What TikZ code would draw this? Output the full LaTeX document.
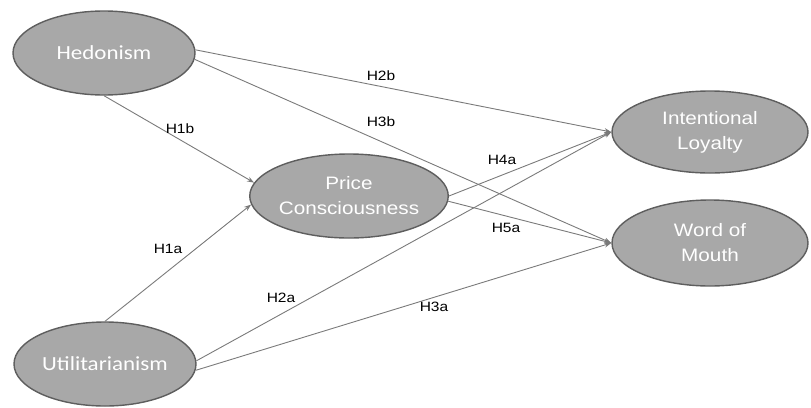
\documentclass[tikz,border=0pt]{standalone}
\usepackage{fontspec}
\setmainfont{Liberation Sans}
\newfontfamily\calfont{Carlito}
\usetikzlibrary{arrows.meta}
\newcommand{\sx}[1]{\scalebox{1.15}[1]{#1}}
\definecolor{ellfill}{HTML}{A8A8A8}
\definecolor{ellline}{HTML}{5E5E5E}
\definecolor{arrline}{HTML}{7A7A7A}
\tikzset{
  construct/.style={ellipse, draw=ellline, line width=1.4pt, fill=ellfill,
    text=white, inner sep=0pt, minimum width=182pt, minimum height=84pt, align=center,
    font=\fontsize{18}{25}\selectfont},
  calconstruct/.style={construct, font=\calfont\fontsize{20}{24}\selectfont},
  path/.style={draw=arrline, line width=0.9pt, -{Stealth[length=7pt,width=5pt,fill=ellline]}},
  hyp/.style={font=\fontsize{13.5}{15}\selectfont, text=black, inner sep=1pt}
}
\usetikzlibrary{shapes.geometric}
\begin{document}
\begin{tikzpicture}[x=1pt,y=-1pt]
\useasboundingbox (0,0) rectangle (811,407);
\node[calconstruct] (hed) at (104,53) {\sx{Hedonism}};
\node[calconstruct] (util) at (105,364) {\sx{Utilitarianism}};
\node[construct] (price) at (349,196) {\sx{Price}\\\sx{Consciousness}};
\node[construct, minimum width=196pt, minimum height=82pt] (il) at (710,132) {\sx{Intentional}\\\sx{Loyalty}};
\node[construct, minimum width=196pt, minimum height=86pt] (wom) at (710,243) {\sx{Word of}\\\sx{Mouth}};

\draw[path] (hed.2) -- (il.west);
\draw[path] (hed.-4) -- (wom.west);
\draw[path] (hed.south) -- (price.172);
\draw[path] (util.north) -- (price.185);
\draw[path] (util.2) -- (il.west);
\draw[path] (util.-4) -- (wom.west);
\draw[path] (price.east) -- (il.west);
\draw[path] (price.-3) -- (wom.west);

\node[hyp] (l2b) at (381,76) {\sx{H2b}};
\node[hyp] (l3b) at (381,122) {\sx{H3b}};
\node[hyp] (l1b) at (180,129) {\sx{H1b}};
\node[hyp] (l1a) at (168,249) {\sx{H1a}};
\node[hyp] (l2a) at (281,298) {\sx{H2a}};
\node[hyp] (l3a) at (434,307) {\sx{H3a}};
\node[hyp] (l4a) at (502,160) {\sx{H4a}};
\node[hyp] (l5a) at (506,228) {\sx{H5a}};
\end{tikzpicture}
\end{document}
